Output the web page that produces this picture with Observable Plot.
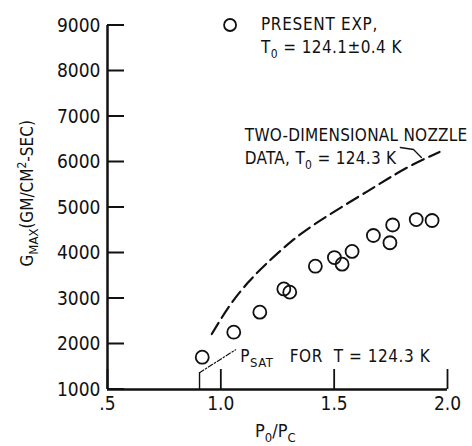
<!DOCTYPE html>
<html>
<head>
<meta charset="utf-8">
<script src="https://cdn.jsdelivr.net/npm/d3@7"></script>
<script src="https://cdn.jsdelivr.net/npm/@observablehq/plot@0.6"></script>
<style>
  html, body { margin: 0; padding: 0; background: #fff; }
  svg text { font-family: "Liberation Sans Narrow", "DejaVu Sans Condensed", "Liberation Sans", sans-serif; }
</style>
</head>
<body>
<div id="chart"></div>
<script>
// Experimental points (present experiment)
const expRatio = [0.918, 1.057, 1.172, 1.278, 1.304, 1.417, 1.501, 1.535, 1.579, 1.673, 1.746, 1.758, 1.862, 1.932];
const expG     = [1710, 2260, 2700, 3210, 3140, 3710, 3900, 3755, 4035, 4385, 4225, 4615, 4735, 4714];

// Two-dimensional nozzle data (dashed curve)
const nozzleRatio = [0.96, 1.04, 1.12, 1.20, 1.31, 1.45, 1.645, 1.75, 1.85, 1.965];
const nozzleG     = [2220, 2850, 3350, 3760, 4250, 4750, 5350, 5670, 5950, 6220];

// P_SAT leader
const psatStem  = [0.906];
const psatRatio = [0.906, 1.065];
const psatG     = [1370, 1873];

// Nozzle annotation leader
const leaderRatio = [1.792, 1.850, 1.885];
const leaderG     = [6319, 6275, 6099];

// Ticks
const yTicks = [1000, 2000, 3000, 4000, 5000, 6000, 7000, 8000, 9000];
const xTicks = [0.5, 1.0, 1.5, 2.0];
const xTickLabels = [".5", "1.0", "1.5", "2.0"];

const points = expRatio.map((r, i) => ({r, g: expG[i]}));
const nozzle = nozzleRatio.map((r, i) => ({r, g: nozzleG[i]}));
const psat = psatRatio.map((r, i) => ({r, g: psatG[i]}));
const leader = leaderRatio.map((r, i) => ({r, g: leaderG[i]}));

const FONT = '"Liberation Sans Narrow", "DejaVu Sans Condensed", "Liberation Sans", sans-serif';

const W = 472, H = 446, ML = 107, MR = 25, MT = 25, MB = 57;
const xMin = 0.5, xMax = 2.0;

const plot = Plot.plot({
  width: W,
  height: H,
  marginLeft: ML,
  marginRight: MR,
  marginTop: MT,
  marginBottom: MB,
  style: {fontFamily: FONT, color: "#111", background: "#fff"},
  x: {domain: [xMin, xMax]},
  y: {domain: [1000, 9000]},
  marks: [
    Plot.axisY({ticks: yTicks, tickSize: 0, tickPadding: 7, fontSize: 19, label: null, tickFormat: d => String(d)}),
    Plot.axisX({ticks: xTicks, tickSize: 0, tickPadding: 7, fontSize: 19, label: null, tickFormat: (d, i) => xTickLabels[i]}),
    // inward x tick marks
    Plot.tickX(xTicks, {x: d => d, insetTop: (H - MT - MB) - 20, stroke: "#111", strokeWidth: 1.8}),
    Plot.ruleX([xMin], {y1: 1000, y2: 9000, strokeWidth: 2.5, stroke: "#111"}),
    Plot.ruleY([1000], {x1: xMin, x2: xMax, strokeWidth: 2.5, stroke: "#111"}),
    Plot.line(nozzle, {x: "r", y: "g", curve: "natural", stroke: "#111", strokeWidth: 2.2, strokeDasharray: "13,6"}),
    Plot.ruleX(psatStem, {y1: 1000, y2: 1370, stroke: "#111", strokeWidth: 1.4}),
    Plot.line(psat, {x: "r", y: "g", stroke: "#111", strokeWidth: 1.2, strokeDasharray: "5,2,1.5,2"}),
    Plot.line(leader, {x: "r", y: "g", stroke: "#111", strokeWidth: 1.3}),
    Plot.dot(points, {x: "r", y: "g", r: 6.5, stroke: "#111", strokeWidth: 1.8, fill: "none"})
  ]
});

document.getElementById("chart").appendChild(plot);

const svg = d3.select(plot);
const X = v => plot.scale("x").apply(v);
const Y = v => plot.scale("y").apply(v);

// inward y tick marks, positioned from the y scale
const x0 = X(xMin);
svg.append("path")
  .attr("fill", "none")
  .attr("stroke", "#111")
  .attr("stroke-width", 2)
  .attr("d", yTicks.map(v => `M${x0},${Y(v)}h17`).join(""));

function rich(parent, x, y, parts, size, opts = {}) {
  const t = parent.append("text")
    .attr("x", x).attr("y", y)
    .attr("font-size", size)
    .attr("fill", "#111")
    .attr("font-family", FONT)
    .attr("text-anchor", opts.anchor || "start");
  if (opts.spacing) t.attr("letter-spacing", opts.spacing);
  if (opts.transform) t.attr("transform", opts.transform);
  let shift = 0;
  for (const p of parts) {
    const s = t.append("tspan").text(p.t);
    const want = p.sub ? 5 : p.sup ? -7 : 0;
    s.attr("dy", want - shift);
    shift = want;
    if (p.size) s.attr("font-size", p.size);
  }
  return t;
}

const ann = svg.append("g");

// Legend symbol
ann.append("circle").attr("cx", X(1.043)).attr("cy", Y(9000)).attr("r", 6)
  .attr("fill", "none").attr("stroke", "#111").attr("stroke-width", 1.8);
rich(ann, X(1.179), Y(9000) + 5, [{t: "PRESENT EXP,"}], 17, {spacing: 0.7});
rich(ann, X(1.179), Y(9000) + 28, [{t: "T"}, {t: "0", sub: true, size: 12}, {t: " = 124.1±0.4 K"}], 17, {spacing: 0.4});

// Nozzle label
rich(ann, X(1.108), Y(6400) - 2, [{t: "TWO-DIMENSIONAL NOZZLE"}], 17, {spacing: 0.25});
rich(ann, X(1.108), Y(6400) + 21, [{t: "DATA, T"}, {t: "0", sub: true, size: 12}, {t: " = 124.3 K"}], 17, {spacing: 0.3});

// P_SAT label
rich(ann, X(1.088), Y(1800) + 9, [{t: "P"}, {t: "SAT", sub: true, size: 13}, {t: "   FOR  T = 124.3 K"}], 17, {spacing: 0.55});

// X axis title
rich(ann, X(1.243), 437, [{t: "P"}, {t: "0", sub: true, size: 13}, {t: "/P"}, {t: "C", sub: true, size: 13}], 18, {anchor: "middle"});

// Y axis title (rotated)
rich(ann, 0, 0, [{t: "G"}, {t: "MAX", sub: true, size: 13}, {t: "(GM/CM"}, {t: "2", sup: true, size: 12}, {t: "-SEC)"}], 17,
  {anchor: "middle", transform: `translate(33,${Y(5300)}) rotate(-90)`});
</script>
</body>
</html>
